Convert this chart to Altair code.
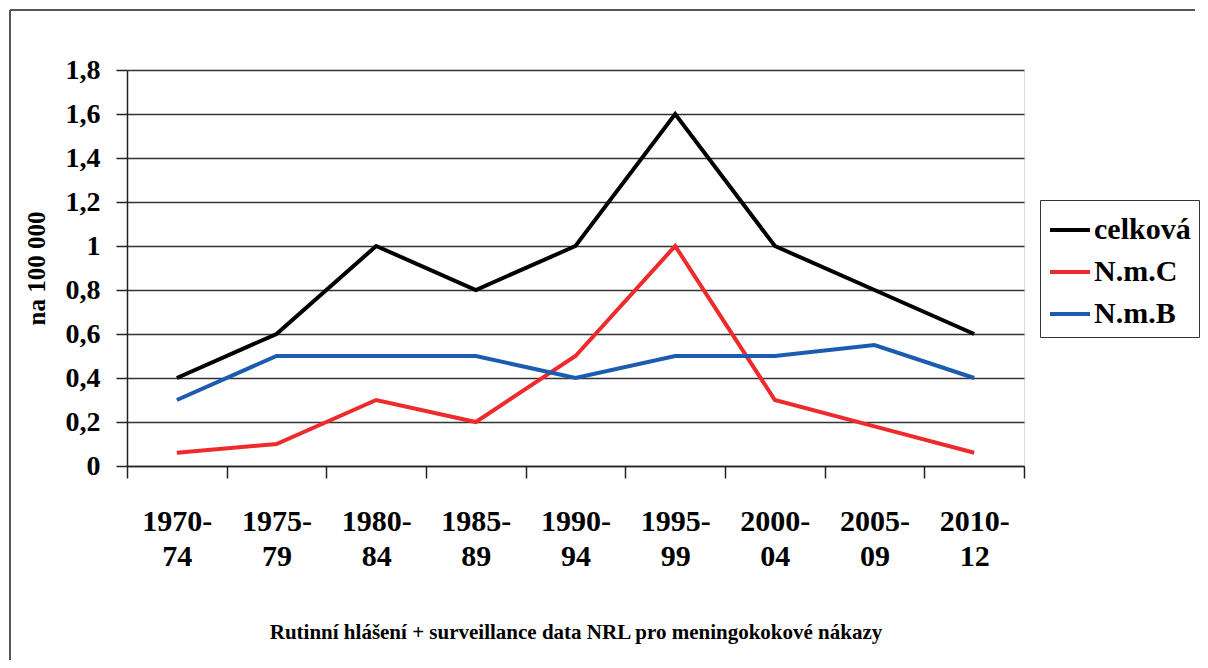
import altair as alt
import pandas as pd

periods = ["1970-74", "1975-79", "1980-84", "1985-89", "1990-94",
           "1995-99", "2000-04", "2005-09", "2010-12"]
celkova = [0.4, 0.6, 1.0, 0.8, 1.0, 1.6, 1.0, 0.8, 0.6]
nmc = [0.06, 0.1, 0.3, 0.2, 0.5, 1.0, 0.3, 0.18, 0.06]
nmb = [0.3, 0.5, 0.5, 0.5, 0.4, 0.5, 0.5, 0.55, 0.4]
series_names = ["celková", "N.m.C", "N.m.B"]
series_colors = ["#000000", "#ee2a2c", "#1c5cb0"]
y_ticks = [0, 0.2, 0.4, 0.6, 0.8, 1.0, 1.2, 1.4, 1.6, 1.8]
caption = "Rutinní hlášení + surveillance data NRL pro meningokokové nákazy"

rows = []
for name, vals in zip(series_names, [celkova, nmc, nmb]):
    for p, v in zip(periods, vals):
        rows.append({"obdobi": p, "hodnota": v, "serie": name})
df = pd.DataFrame(rows)

FONT = "Liberation Serif"

lines = alt.Chart(df).mark_line(strokeWidth=4, strokeJoin="miter").encode(
    x=alt.X("obdobi:N", sort=periods, bandPosition=0.5,
            scale=alt.Scale(type="band", paddingInner=0, paddingOuter=0),
            axis=alt.Axis(title=caption, labelAngle=0, tickBand="extent",
                          labelExpr="[slice(datum.label,0,5), slice(datum.label,5)]",
                          labelFont=FONT, labelFontWeight="bold", labelFontSize=30,
                          labelLineHeight=35, labelPadding=28, labelColor="#000",
                          tickSize=12, tickColor="#222", tickWidth=1.5,
                          domainColor="#222", domainWidth=1.5, grid=False,
                          titleFont=FONT, titleFontWeight="bold", titleFontSize=21,
                          titleColor="#000", titlePadding=50)),
    y=alt.Y("hodnota:Q", scale=alt.Scale(domain=[0, 1.8], nice=False),
            axis=alt.Axis(title="na 100 000", values=y_ticks,
                          labelExpr="replace(format(datum.value, '~g'), '.', ',')",
                          labelFont=FONT, labelFontWeight="bold", labelFontSize=28,
                          labelColor="#000", labelPadding=16,
                          tickSize=11, tickColor="#222", tickWidth=1.5,
                          domainColor="#222", domainWidth=1.5,
                          grid=True, gridColor="#333", gridWidth=1.5,
                          titleFont=FONT, titleFontWeight="bold", titleFontSize=25,
                          titleColor="#000", titlePadding=16)),
    color=alt.Color("serie:N", sort=series_names,
                    scale=alt.Scale(domain=series_names, range=series_colors),
                    legend=alt.Legend(title=None, orient="none", legendX=913, legendY=130,
                                      strokeColor="#333", padding=8,
                                      symbolType="stroke", symbolSize=1600,
                                      symbolStrokeWidth=4, labelFont=FONT,
                                      labelFontWeight="bold", labelFontSize=30,
                                      labelColor="#000", rowPadding=5, labelOffset=2)),
)

frame = pd.DataFrame({"a": [0]})
top_line = alt.Chart(frame).mark_rule(stroke="#555", strokeWidth=2).encode(
    x=alt.value(-117), x2=alt.value(1068), y=alt.value(-60))
left_line = alt.Chart(frame).mark_rule(stroke="#555", strokeWidth=2).encode(
    x=alt.value(-117), y=alt.value(-60), y2=alt.value(590))

chart = alt.layer(top_line, left_line, lines).properties(
    width=897, height=396,
    padding={"left": 119, "top": 62, "right": 176, "bottom": 194},
    autosize=alt.AutoSizeParams(type="none"),
).configure_view(stroke="#222", strokeWidth=1.5).configure(background="white")

chart.save("out.html", embed_options={"renderer": "svg", "actions": False})
